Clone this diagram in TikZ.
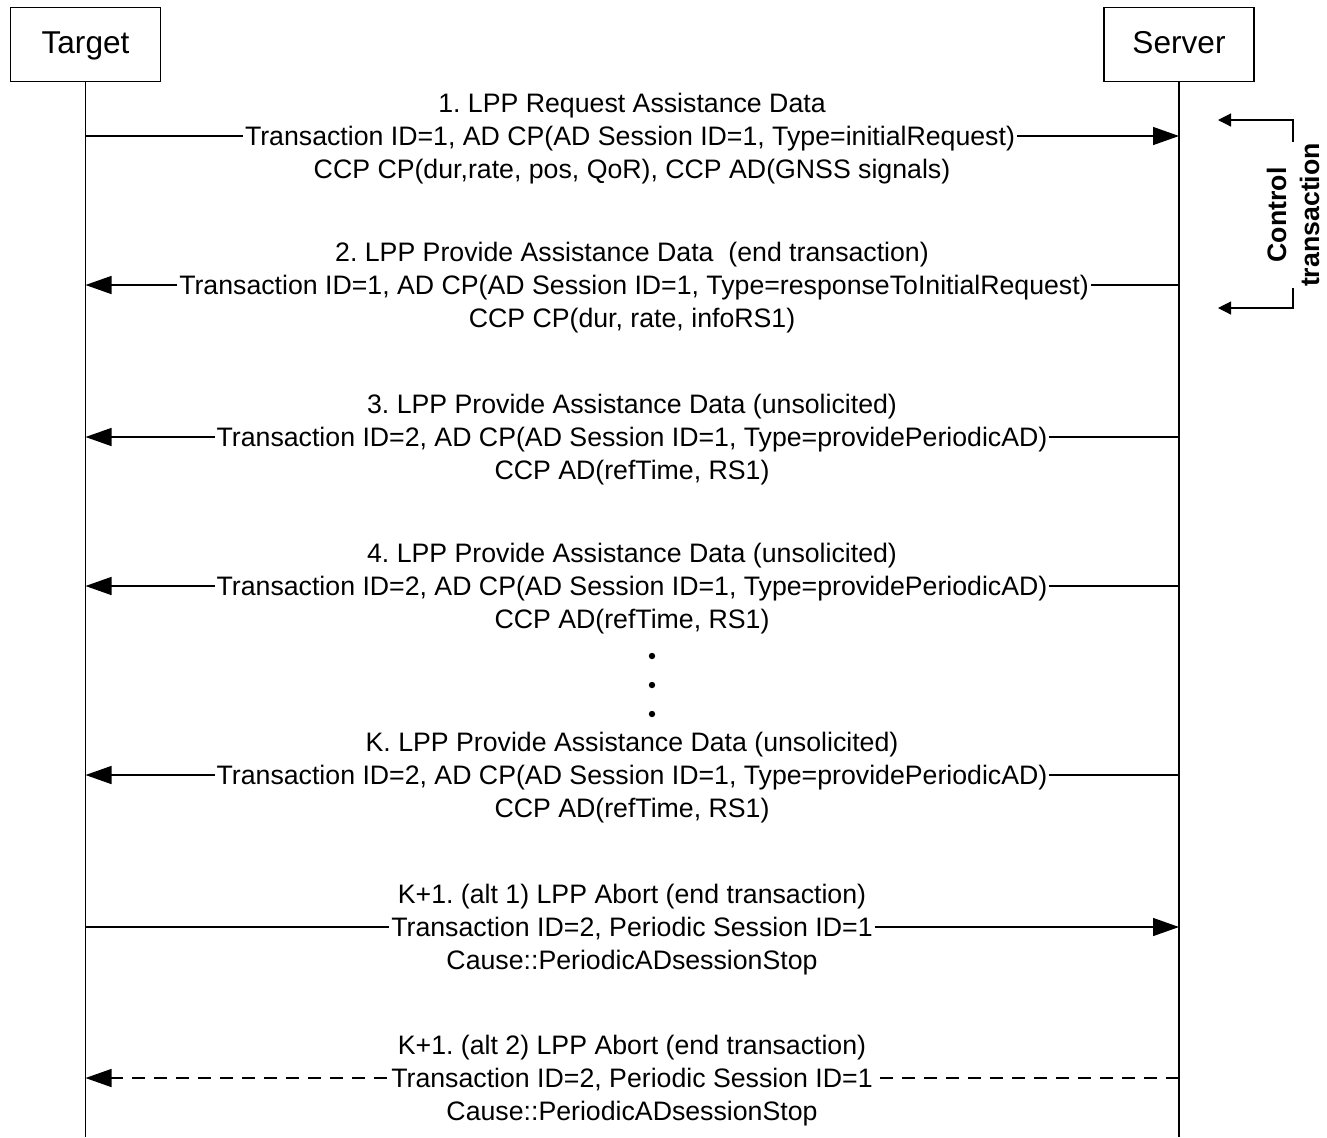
\documentclass[tikz,border=0pt]{standalone}
\usepackage{fontspec}
\setmainfont{Liberation Sans}
\usetikzlibrary{arrows.meta}
\frenchspacing

\begin{document}
\begin{tikzpicture}[x=0.5pt,y=-0.5pt,
  entity/.style={rectangle,draw,line width=0.7pt,
          minimum width=75pt,minimum height=37pt,text height=12.4pt,text depth=3.3pt,
          font=\fontsize{15.8}{19}\selectfont},
  lifeline/.style={line width=0.7pt},
  msg/.style={line width=0.7pt,-{Triangle[length=13pt,width=9pt]}},
  altmsg/.style={msg,dash pattern=on 6.5pt off 4.5pt},
  ctl/.style={line width=0.6pt,-{Triangle[length=6.5pt,width=6.5pt]}},
  msgtext/.style={anchor=base,inner sep=0pt,font=\fontsize{13.35}{16.5}\selectfont},
  onarrow/.style={msgtext,fill=white,inner xsep=1pt}]
\useasboundingbox (0,0) rectangle (1327,1137);

\node[entity] (target) at (85.5,44.5) {Target};
\node[entity] (server) at (1179,44.5) {Server};
\coordinate (bottom) at (0,1137);
\draw[lifeline] (target.south) -- (target |- bottom);
\draw[lifeline] (server.south) -- (server |- bottom);

% arrows first, the texts cover them
\coordinate (y1) at (0,136);
\coordinate (y2) at (0,285);
\coordinate (y3) at (0,437);
\coordinate (y4) at (0,586);
\coordinate (yk) at (0,775);
\coordinate (ya) at (0,927);
\coordinate (yb) at (0,1078);
\draw[msg] (target |- y1) -- (server |- y1);
\draw[msg] (server |- y2) -- (target |- y2);
\draw[msg] (server |- y3) -- (target |- y3);
\draw[msg] (server |- y4) -- (target |- y4);
\draw[msg] (server |- yk) -- (target |- yk);
\draw[msg] (target |- ya) -- (server |- ya);
\draw[altmsg] (server |- yb) -- (target |- yb);

% 1
\node[msgtext] (m1top) at (632,112.5) {1. LPP Request Assistance Data};
\node[onarrow] (m1) at (630,145.5)
          {Transaction ID=1, AD CP(AD Session ID=1, Type=initialRequest)};
\node[msgtext] (m1bot) at (632,178.5) {CCP CP(dur,rate, pos, QoR), CCP AD(GNSS signals)};

% 2
\node[msgtext] (m2top) at (632,261.5) {2. LPP Provide Assistance Data \ (end transaction)};
\node[onarrow] (m2) at (634,294.5)
          {Transaction ID=1, AD CP(AD Session ID=1, Type=responseToInitialRequest)};
\node[msgtext] (m2bot) at (632,327.5) {CCP CP(dur, rate, infoRS1)};

% 3
\node[msgtext] (m3top) at (632,413.5) {3. LPP Provide Assistance Data (unsolicited)};
\node[onarrow] (m3) at (632,446.5)
          {Transaction ID=2, AD CP(AD Session ID=1, Type=providePeriodicAD)};
\node[msgtext] (m3bot) at (632,479.5) {CCP AD(refTime, RS1)};

% 4
\node[msgtext] (m4top) at (632,562.5) {4. LPP Provide Assistance Data (unsolicited)};
\node[onarrow] (m4) at (632,595.5)
          {Transaction ID=2, AD CP(AD Session ID=1, Type=providePeriodicAD)};
\node[msgtext] (m4bot) at (632,628.5) {CCP AD(refTime, RS1)};

\fill (652,656) circle (1.6pt);
\fill (652,685) circle (1.6pt);
\fill (652,714) circle (1.6pt);

% K
\node[msgtext] (mktop) at (632,751.5) {K. LPP Provide Assistance Data (unsolicited)};
\node[onarrow] (mk) at (632,784.5)
          {Transaction ID=2, AD CP(AD Session ID=1, Type=providePeriodicAD)};
\node[msgtext] (mkbot) at (632,817.5) {CCP AD(refTime, RS1)};

% K+1 alt 1
\node[msgtext] (matop) at (632,903.5) {K+1. (alt 1) LPP Abort (end transaction)};
\node[onarrow] (ma) at (632,936.5) {Transaction ID=2, Periodic Session ID=1};
\node[msgtext] (mabot) at (632,969.5) {Cause::PeriodicADsessionStop};

% K+1 alt 2
\node[msgtext] (mbtop) at (632,1054.5) {K+1. (alt 2) LPP Abort (end transaction)};
\node[onarrow] (mb) at (632,1087.5) {Transaction ID=2, Periodic Session ID=1};
\node[msgtext] (mbbot) at (632,1120.5) {Cause::PeriodicADsessionStop};

% control transaction bracket
\coordinate (cmid) at (1293,215);
\coordinate (cup) at (1218,120);
\coordinate (cdown) at (1218,308);
\draw[ctl] (cmid) |- (cup);
\draw[ctl] (cmid) |- (cdown);
\node[rotate=90,fill=white,inner sep=0.5pt,align=center,
          font=\fontsize{13.35}{16.5}\selectfont\bfseries] (ctrl) at (cmid)
          {Control\\transaction};
\end{tikzpicture}
\end{document}
